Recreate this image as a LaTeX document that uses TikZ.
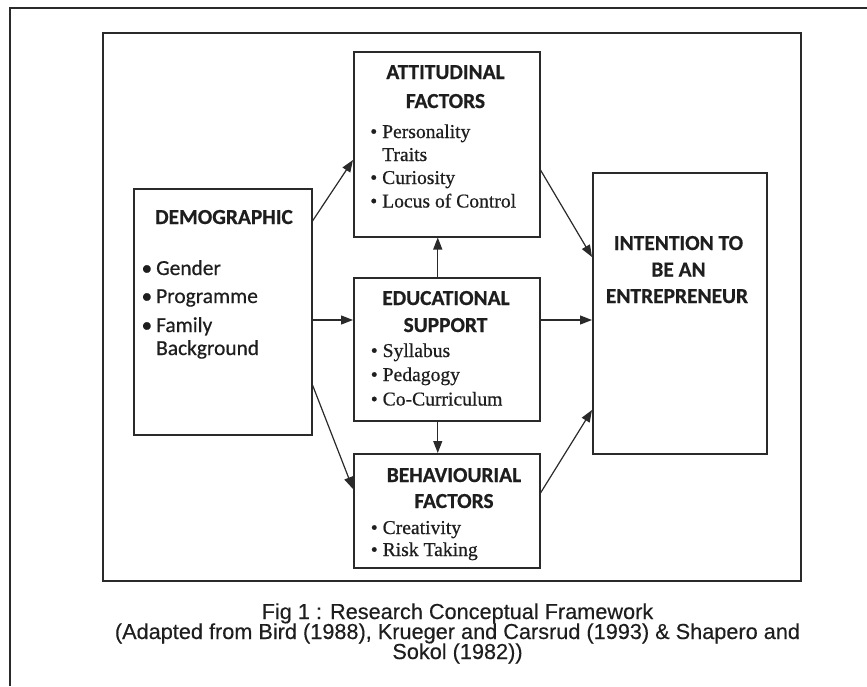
\documentclass[tikz,border=0pt]{standalone}
\usepackage{fontspec}
\setmainfont{Liberation Serif}[FakeBold=0.6]
\newfontfamily\hfont{Carlito}[FakeBold=0.5]
\newfontfamily\hbfont{Carlito Bold}[FakeBold=0.6]
\newfontfamily\capfont{Liberation Sans}[FakeBold=0.3]
\usetikzlibrary{arrows.meta,calc}
\definecolor{ink}{HTML}{1E1E1E}
\definecolor{edge}{HTML}{2A2A2A}
\newcommand\tb[1]{\llap{\textbullet\hspace{#1}}}
\begin{document}
\begin{tikzpicture}[x=1pt,y=-1pt,
  box/.style={draw=edge, line width=1.5pt, rectangle, inner sep=0pt, anchor=north west},
  hd/.style={font=\hbfont\fontsize{21.4}{26}\selectfont, text=ink, inner sep=0pt, anchor=base},
  it/.style={font=\fontsize{19.6}{23}\selectfont, text=ink, inner sep=0pt, anchor=base west},
  dit/.style={font=\hfont\fontsize{21.4}{26}\selectfont, text=ink, inner sep=0pt, anchor=base west},
  captxt/.style={font=\capfont\fontsize{21.7}{20}\selectfont, text=ink, inner sep=0pt, anchor=base},
  arr/.style={draw=edge, line width=1.2pt, -{Triangle[length=12pt,width=9pt]}}]
\useasboundingbox (0,0) rectangle (867,686);
\fill[white] (0,0) rectangle (867,686);
% outer frame (cut by the picture edges)
\draw[draw=edge, line width=1.5pt] (10,686) -- (10,8) -- (867,8);
% inner frame
\node[box, minimum width=698pt, minimum height=548pt] (frame) at (102,32) {};
% boxes
\node[box, minimum width=178pt, minimum height=246pt] (dem) at (133,188) {};
\node[box, minimum width=186pt, minimum height=185pt] (att) at (353,51) {};
\node[box, minimum width=186pt, minimum height=143pt] (edu) at (353,277) {};
\node[box, minimum width=186pt, minimum height=114pt] (beh) at (353,453) {};
\node[box, minimum width=174pt, minimum height=281pt] (int) at (592,172) {};
% demographic text
\node[hd] (demh) at (224,224) {DEMOGRAPHIC};
\node[dit] (d1) at (156,275) {\tb{4pt}Gender};
\node[dit] (d2) at (156,303) {\tb{4pt}Programme};
\node[dit] (d3) at (156,332) {\tb{4pt}Family};
\node[dit] (d4) at (156,355) {Background};
% attitudinal text
\node[hd] (atth1) at (445.5,79) {ATTITUDINAL};
\node[hd] (atth2) at (445.5,108) {FACTORS};
\node[it] (a1) at (382,138) {\tb{5pt}Personality};
\node[it] (a2) at (382,161) {Traits};
\node[it] (a3) at (382,184) {\tb{5pt}Curiosity};
\node[it] (a4) at (382,207.5) {\tb{5pt}Locus of Control};
% educational text
\node[hd] (eduh1) at (446,305) {EDUCATIONAL};
\node[hd] (eduh2) at (445.5,332) {SUPPORT};
\node[it] (e1) at (382.5,357) {\tb{5pt}Syllabus};
\node[it] (e2) at (382.5,381) {\tb{5pt}Pedagogy};
\node[it] (e3) at (382.5,405.5) {\tb{5pt}Co-Curriculum};
% behavioural text
\node[hd] (behh1) at (454,482) {BEHAVIOURIAL};
\node[hd] (behh2) at (454,508) {FACTORS};
\node[it] (b1) at (382.5,534) {\tb{5pt}Creativity};
\node[it] (b2) at (382.5,556) {\tb{5pt}Risk Taking};
% intention text
\node[hd] (inth1) at (678.5,250) {INTENTION TO};
\node[hd] (inth2) at (678.5,276.5) {BE AN};
\node[hd] (inth3) at (677,303) {ENTREPRENEUR};
% arrows
\draw[arr] ($(dem.north east)+(0,33)$) -- ($(att.north west)+(0,109)$);
\draw[arr] ($(dem.north east)+(0,132)$) -- ($(edu.north west)+(0,43)$);
\draw[arr] ($(dem.north east)+(0,197)$) -- ($(beh.north west)+(0,36)$);
\draw[arr] ($(edu.north)+(-9,0)$) -- ($(att.south)+(-9,0)$);
\draw[arr] ($(edu.south)+(-9,0)$) -- ($(beh.north)+(-9,0)$);
\draw[arr] ($(edu.north east)+(0,43)$) -- ($(int.north west)+(0,148)$);
\draw[arr] ($(att.north east)+(0,119)$) -- ($(int.north west)+(0,85)$);
\draw[arr] ($(beh.north east)+(0,40)$) -- ($(int.north west)+(0,238)$);
% caption
\node[captxt] (c1) at (457.5,619) {Fig 1 : Research Conceptual Framework};
\node[captxt] (c2) at (457.5,639) {(Adapted from Bird (1988), Krueger and Carsrud (1993) \& Shapero and};
\node[captxt] (c3) at (457.5,659) {Sokol (1982))};
\end{tikzpicture}
\end{document}
